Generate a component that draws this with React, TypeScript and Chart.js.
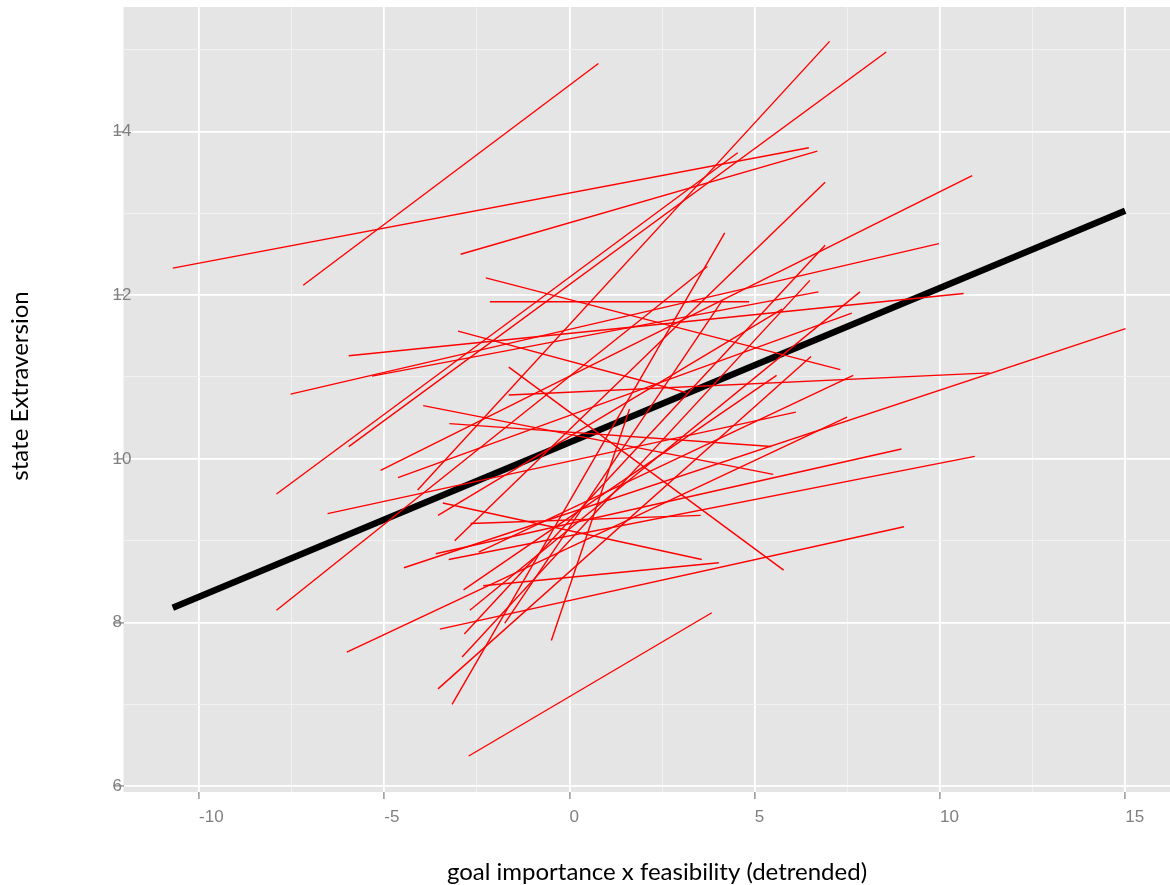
import React, { useEffect, useRef } from 'react';
import { Chart, registerables } from 'chart.js';

Chart.register(...registerables);

// axis ticks
const xMajorTicks = [-10, -5, 0, 5, 10, 15];
const xMinorTicks = [-7.5, -2.5, 2.5, 7.5, 12.5];
const yMajorTicks = [6, 8, 10, 12, 14];
const yMinorTicks = [7, 9, 11, 13, 15];

// per-person fitted lines (start and end of each red segment)
const startX = [-10.71, -7.19, -2.94, -2.26, -2.15, -7.91, -7.91, -7.53, -6.53, -6.01,
  -5.96, -5.96, -5.33, -5.10, -4.63, -4.47, -4.10, -3.95, -3.55, -3.61,
  -3.50, -3.55, -3.17, -3.24, -3.26, -2.90, -2.86, -2.84, -2.72, -2.67,
  -2.45, -1.64, -3.01, -1.64, -0.49, -3.42, -2.33, -1.75, -3.10, -2.69];
const startY = [12.33, 12.12, 12.50, 12.21, 11.92, 9.57, 8.15, 10.79, 9.33, 7.64,
  10.15, 11.26, 11.01, 9.86, 9.77, 8.67, 9.62, 10.65, 9.31, 8.84,
  7.92, 7.19, 7.00, 10.43, 8.77, 7.58, 8.40, 7.86, 6.37, 9.21,
  8.86, 10.78, 11.56, 11.12, 7.78, 9.46, 8.45, 7.99, 9.00, 8.15];
const endX = [6.46, 0.78, 6.69, 7.31, 4.85, 4.54, 3.72, 9.97, 6.11, 7.49,
  8.55, 10.64, 6.72, 10.87, 7.62, 15.01, 7.02, 5.50, 5.74, 8.96,
  9.03, 6.52, 4.19, 5.45, 10.94, 6.49, 5.59, 6.90, 3.84, 3.54,
  7.66, 11.34, 3.14, 5.78, 1.62, 3.57, 4.03, 4.13, 6.90, 7.84];
const endY = [13.80, 14.83, 13.76, 11.09, 11.92, 13.74, 12.35, 12.63, 10.57, 10.51,
  14.97, 12.02, 12.04, 13.46, 11.78, 11.59, 15.10, 9.81, 11.83, 10.12,
  9.17, 11.25, 12.76, 10.15, 10.03, 12.18, 11.02, 12.61, 8.12, 9.31,
  11.02, 11.05, 10.81, 8.64, 10.61, 8.77, 8.73, 11.94, 13.38, 12.04];

// fixed (average) effect line
const fixedX = [-10.71, 15.0];
const fixedY = [8.18, 13.03];

const X_TITLE = 'goal importance x feasibility (detrended)';
const Y_TITLE = 'state Extraversion';

export default function App() {
  const ref = useRef<HTMLCanvasElement | null>(null);

  useEffect(() => {
    document.body.style.margin = '0';
    const canvas = ref.current;
    if (!canvas) return;

    const redSets = startX.map((_, i) => ({
      data: [
        { x: startX[i], y: startY[i] },
        { x: endX[i], y: endY[i] },
      ],
      borderColor: '#FF0000',
      borderWidth: 1.4,
      pointRadius: 0,
      showLine: true,
      order: 0,
    }));

    const blackSet = {
      data: fixedX.map((x, i) => ({ x, y: fixedY[i] })),
      borderColor: '#000000',
      borderWidth: 6.5,
      pointRadius: 0,
      showLine: true,
      order: 1,
      borderCapStyle: 'butt',
    };

    const panelBg = {
      id: 'panelBg',
      beforeDraw(chart: any) {
        const { ctx, chartArea } = chart;
        ctx.save();
        ctx.fillStyle = '#E5E5E5';
        ctx.fillRect(chartArea.left, chartArea.top, chartArea.right - chartArea.left, chartArea.bottom - chartArea.top);
        ctx.restore();
      },
    };

    const titles = {
      id: 'titles',
      afterDraw(chart: any) {
        const { ctx } = chart;
        ctx.save();
        ctx.fillStyle = '#000000';
        ctx.font = '24px Lato';
        ctx.textAlign = 'center';
        ctx.textBaseline = 'middle';
        ctx.fillText(X_TITLE, 657, 872);
        ctx.translate(20, 386);
        ctx.rotate(-Math.PI / 2);
        ctx.fillText(Y_TITLE, 0, 0);
        ctx.restore();
      },
    };

    const isMajorX = (v: number) => xMajorTicks.includes(v);
    const isMajorY = (v: number) => yMajorTicks.includes(v);

    const chart = new Chart(canvas, {
      type: 'scatter',
      data: { datasets: [...redSets, blackSet] as any },
      options: {
        animation: false,
        responsive: false,
        devicePixelRatio: 1,
        layout: { padding: { left: 112, right: 0, top: 7, bottom: 0 } },
        plugins: { legend: { display: false }, tooltip: { enabled: false } },
        scales: {
          x: {
            type: 'linear',
            min: -12.04,
            max: 16.21,
            afterBuildTicks: (axis: any) => {
              axis.ticks = [...xMajorTicks, ...xMinorTicks].sort((a, b) => a - b).map((v) => ({ value: v }));
            },
            afterFit: (axis: any) => {
              axis.height = 93;
            },
            border: { display: false },
            grid: {
              color: (c: any) => (isMajorX(c.tick.value) ? '#FFFFFF' : '#F2F2F2'),
              lineWidth: (c: any) => (isMajorX(c.tick.value) ? 1.8 : 0.9),
              tickColor: (c: any) => (isMajorX(c.tick.value) ? '#7F7F7F' : 'rgba(0,0,0,0)'),
              tickLength: 7,
              tickWidth: 1.2,
            },
            ticks: {
              autoSkip: false,
              maxRotation: 0,
              align: 'start',
              padding: 8,
              color: '#7F7F7F',
              font: { family: 'Liberation Sans', size: 17 },
              callback: (v: any) => (isMajorX(Number(v)) ? String(v) : ''),
            },
          },
          y: {
            type: 'linear',
            min: 5.93,
            max: 15.52,
            afterBuildTicks: (axis: any) => {
              axis.ticks = [...yMajorTicks, ...yMinorTicks].sort((a, b) => a - b).map((v) => ({ value: v }));
            },
            afterFit: (axis: any) => {
              axis.width = 11.5;
            },
            border: { display: false },
            grid: {
              color: (c: any) => (isMajorY(c.tick.value) ? '#FFFFFF' : '#F2F2F2'),
              lineWidth: (c: any) => (isMajorY(c.tick.value) ? 1.8 : 0.9),
              tickColor: (c: any) => (isMajorY(c.tick.value) ? '#7F7F7F' : 'rgba(0,0,0,0)'),
              tickLength: 10,
              tickWidth: 1.2,
            },
            ticks: {
              autoSkip: false,
              mirror: true,
              padding: -11,
              color: '#7F7F7F',
              font: { family: 'Liberation Sans', size: 17 },
              callback: (v: any) => (isMajorY(Number(v)) ? String(v) : ''),
            },
          },
        },
      } as any,
      plugins: [panelBg, titles],
    });

    return () => chart.destroy();
  }, []);

  return (
    <div style={{ width: 1170, height: 885, position: 'relative' }}>
      <canvas ref={ref} width={1170} height={885} style={{ display: 'block' }} />
    </div>
  );
}
